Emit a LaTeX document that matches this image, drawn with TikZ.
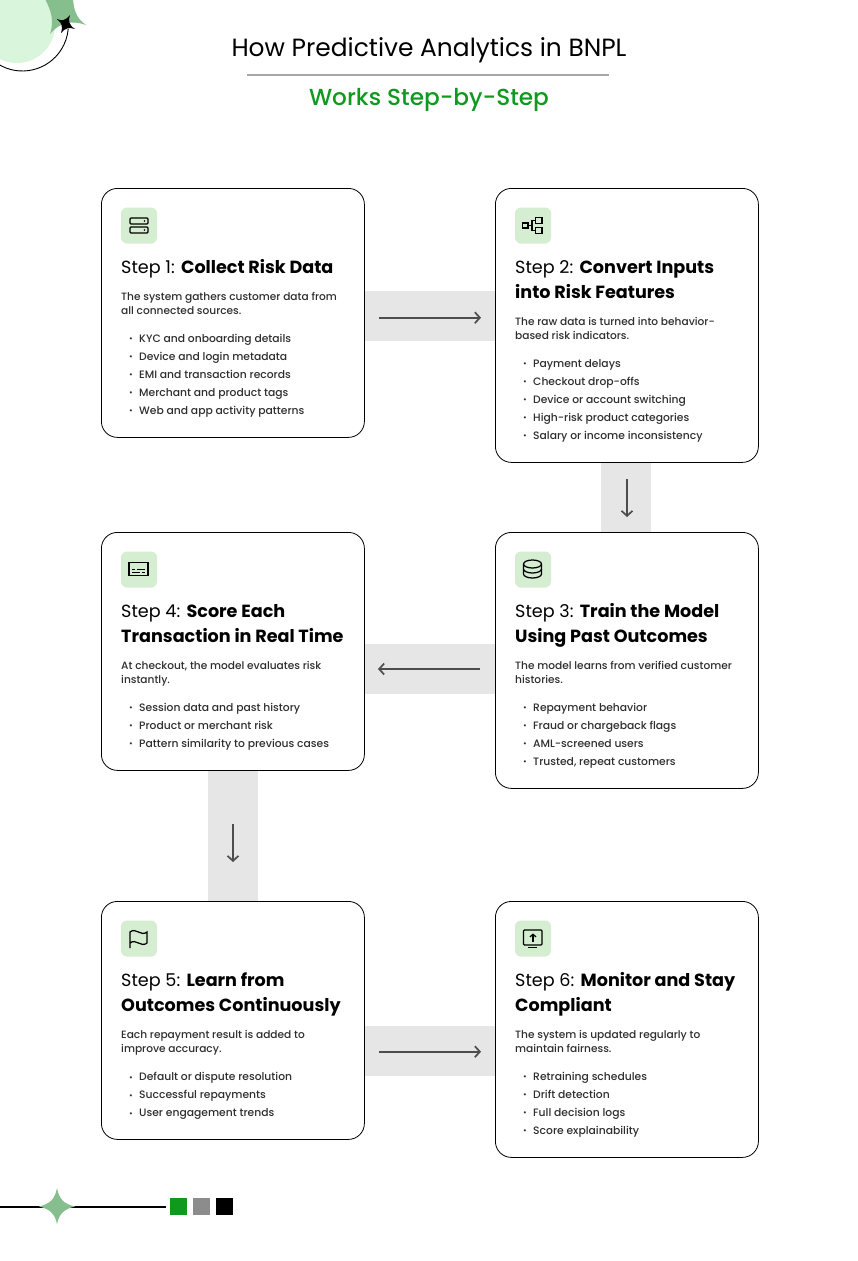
\documentclass[tikz,border=0pt]{standalone}
\usepackage{fontspec}
\setmainfont{Poppins}
\newfontfamily\medfont{Poppins Medium}
\usetikzlibrary{arrows.meta}
\definecolor{brandgreen}{HTML}{0F9A1F}
\definecolor{iconbg}{HTML}{D5EDD0}
\definecolor{softgreen}{HTML}{86BE8E}
\definecolor{palegreen}{HTML}{D9F5DC}
\definecolor{bandgray}{HTML}{E6E6E6}
\definecolor{arrowgray}{HTML}{4D4D4D}
\definecolor{bodygray}{HTML}{2E2E2E}
\newcommand{\itm}[1]{\makebox[10pt][l]{\raisebox{0.5pt}{\fontsize{8}{8}\selectfont •}}#1}
\tikzset{
	every node/.style={inner sep=0pt},
	card/.style={
		draw=black,
		line width=0.8pt,
		fill=white,
		rounded corners=16pt,
		minimum width=263pt,
		anchor=north west,
	},
	band/.style={
		fill=bandgray,
		anchor=north west,
	},
	iconbox/.style={
		fill=iconbg,
		rounded corners=6pt,
		minimum width=36pt,
		minimum height=36pt,
	},
	icon/.style={
		draw=black,
		line width=1.25pt,
	},
	steptitle/.style={
		anchor=north west,
		align=left,
		font=\fontsize{17.6}{25}\selectfont,
	},
	desc/.style={
		anchor=north west,
		align=left,
		text=bodygray,
		font=\medfont\fontsize{10.6}{14}\selectfont,
	},
	items/.style={
		anchor=north west,
		align=left,
		text=bodygray,
		font=\medfont\fontsize{10.75}{18}\selectfont,
	},
	flow/.style={
		draw=arrowgray,
		line width=1.7pt,
		-{Straight Barb[length=5pt,width=11pt]},
	},
}

\begin{document}
\begin{tikzpicture}[x=1pt,y=-1pt]
	\clip (0,0) rectangle (858,1261);
	\fill[white] (0,0) rectangle (858,1261);

	% corner ornament
	\fill[palegreen] (17,25) circle (38);
	\fill[softgreen] (45,-1) .. controls (52,12) and (54,22) .. (50,34)
		.. controls (60,22) and (72,20) .. (86,25)
		.. controls (76,18) and (74,10) .. (73,-1) -- cycle;
	\draw[black,line width=0.9pt] (-2,64) arc (122:5:46);
	\fill[black] (57,19) .. controls (62,21) and (65,21) .. (70,15)
		.. controls (68,21) and (69,25) .. (75,29)
		.. controls (69,27) and (65,28) .. (61,33)
		.. controls (63,27) and (62,23) .. (57,19) -- cycle;

	% heading
	\node[font=\fontsize{24.9}{28}\selectfont] (head) at (429,50.5) {How Predictive Analytics in BNPL};
	\node[text=brandgreen,font=\medfont\fontsize{23.2}{28}\selectfont] (subhead) at (429,100) {Works Step-by-Step};
	\draw[color=black!35,line width=1.2pt] (247,75) -- (609,75);

	% bands between the cards
	\node[band,minimum width=131pt,minimum height=50pt] (band12) at (364,291) {};
	\node[band,minimum width=50pt,minimum height=70pt] (band23) at (601,462) {};
	\node[band,minimum width=131pt,minimum height=50pt] (band34) at (364,644) {};
	\node[band,minimum width=50pt,minimum height=131pt] (band45) at (208,770) {};
	\node[band,minimum width=131pt,minimum height=50pt] (band56) at (364,1026) {};

	% cards
	\node[card,minimum height=249pt] (card1) at (101,188) {};
	\node[card,minimum height=274pt] (card2) at (495,188) {};
	\node[card,minimum height=256pt] (card3) at (495,532) {};
	\node[card,minimum height=238pt] (card4) at (101,532) {};
	\node[card,minimum height=238pt] (card5) at (101,901) {};
	\node[card,minimum height=256pt] (card6) at (495,901) {};

	% step 1
	\node[iconbox] (icon1) at (139,225.5) {};
	\draw[icon,rounded corners=1pt] (130,218) rectangle (148,224);
	\draw[icon,rounded corners=1pt] (130,227) rectangle (148,233);
	\fill (144.5,221) circle (0.9);
	\fill (144.5,230) circle (0.9);
	\node[steptitle] (title1) at (121,259.5) {Step 1: \textbf{Collect Risk Data}};
	\node[desc] (desc1) at (121,292) {The system gathers customer data from\\all connected sources.};
	\node[items] (list1) at (129,334) {\itm{KYC and onboarding details}\\\itm{Device and login metadata}\\\itm{EMI and transaction records}\\\itm{Merchant and product tags}\\\itm{Web and app activity patterns}};

	% step 2
	\node[iconbox] (icon2) at (533,225.5) {};
	\draw[icon] (522.5,223) rectangle (528,228);
	\draw[icon] (535.5,217.5) rectangle (542,223.5);
	\draw[icon] (535.5,227.5) rectangle (542,233.5);
	\draw[icon] (528,225.5) -- (532,225.5);
	\draw[icon] (535.5,220.5) -- (532,220.5) -- (532,230.5) -- (535.5,230.5);
	\node[steptitle] (title2) at (515,260) {Step 2: \textbf{Convert Inputs}\\\textbf{into Risk Features}};
	\node[desc] (desc2) at (515,317) {The raw data is turned into behavior-\\based risk indicators.};
	\node[items] (list2) at (523,359) {\itm{Payment delays}\\\itm{Checkout drop-offs}\\\itm{Device or account switching}\\\itm{High-risk product categories}\\\itm{Salary or income inconsistency}};

	% step 3
	\node[iconbox] (icon3) at (533,569.5) {};
	\draw[icon] (532.5,564) ellipse (9 and 4);
	\draw[icon] (523.5,564) -- (523.5,574) arc (180:0:9 and 4) -- (541.5,564);
	\draw[icon] (523.5,569) arc (180:0:9 and 4);
	\node[steptitle] (title3) at (515,603.5) {Step 3: \textbf{Train the Model}\\\textbf{Using Past Outcomes}};
	\node[desc] (desc3) at (515,661) {The model learns from verified customer\\histories.};
	\node[items] (list3) at (523,703) {\itm{Repayment behavior}\\\itm{Fraud or chargeback flags}\\\itm{AML-screened users}\\\itm{Trusted, repeat customers}};

	% step 4
	\node[iconbox] (icon4) at (139,569.5) {};
	\draw[icon] (129,562.5) rectangle (148,575.5);
	\draw[icon,line width=1pt] (132,569) -- (135,569) (137,569) -- (145,569) (132,572.5) -- (140,572.5) (142,572.5) -- (145,572.5);
	\node[steptitle] (title4) at (121,604) {Step 4: \textbf{Score Each}\\\textbf{Transaction in Real Time}};
	\node[desc] (desc4) at (121,661) {At checkout, the model evaluates risk\\instantly.};
	\node[items] (list4) at (129,703) {\itm{Session data and past history}\\\itm{Product or merchant risk}\\\itm{Pattern similarity to previous cases}};

	% step 5
	\node[iconbox] (icon5) at (139,938.5) {};
	\draw[icon] (130,948) -- (130,932)
		.. controls (136,927) and (141,937) .. (147,932) -- (147,943)
		.. controls (141,948) and (136,938) .. (130,943);
	\node[steptitle] (title5) at (121,972.5) {Step 5: \textbf{Learn from}\\\textbf{Outcomes Continuously}};
	\node[desc] (desc5) at (121,1030) {Each repayment result is added to\\improve accuracy.};
	\node[items] (list5) at (129,1072) {\itm{Default or dispute resolution}\\\itm{Successful repayments}\\\itm{User engagement trends}};

	% step 6
	\node[iconbox] (icon6) at (533,938.5) {};
	\draw[icon,rounded corners=1pt] (523.5,930) rectangle (542,945);
	\draw[icon] (528,947.5) -- (537,947.5);
	\draw[icon,-{Straight Barb[length=2.5pt,width=6pt]}] (533,942) -- (533,933.5);
	\node[steptitle] (title6) at (515,972.5) {Step 6: \textbf{Monitor and Stay}\\\textbf{Compliant}};
	\node[desc] (desc6) at (515,1030) {The system is updated regularly to\\maintain fairness.};
	\node[items] (list6) at (523,1072) {\itm{Retraining schedules}\\\itm{Drift detection}\\\itm{Full decision logs}\\\itm{Score explainability}};

	% arrows on the bands
	\coordinate (a12s) at (379,317.7);
	\coordinate (a12e) at (481,317.7);
	\coordinate (a23s) at (627,479);
	\coordinate (a23e) at (627,517);
	\coordinate (a34s) at (480,669);
	\coordinate (a34e) at (378,669);
	\coordinate (a45s) at (233,824);
	\coordinate (a45e) at (233,862);
	\coordinate (a56s) at (379,1051.7);
	\coordinate (a56e) at (481,1051.7);
	\draw[flow] (a12s) -- (a12e);
	\draw[flow] (a23s) -- (a23e);
	\draw[flow] (a34s) -- (a34e);
	\draw[flow] (a45s) -- (a45e);
	\draw[flow] (a56s) -- (a56e);

	% footer
	\draw[black,line width=1.5pt] (0,1207) -- (166,1207);
	\fill[softgreen] (39,1206.5) .. controls (50,1204) and (55,1199) .. (57,1188)
		.. controls (59,1199) and (64,1204) .. (75,1206.5)
		.. controls (64,1209) and (59,1214) .. (57,1224)
		.. controls (55,1214) and (50,1209) .. (39,1206.5) -- cycle;
	\fill[brandgreen] (170,1198) rectangle (187,1215);
	\fill[black!45] (193,1198) rectangle (210,1215);
	\fill[black] (216,1198) rectangle (233,1215);
\end{tikzpicture}
\end{document}
